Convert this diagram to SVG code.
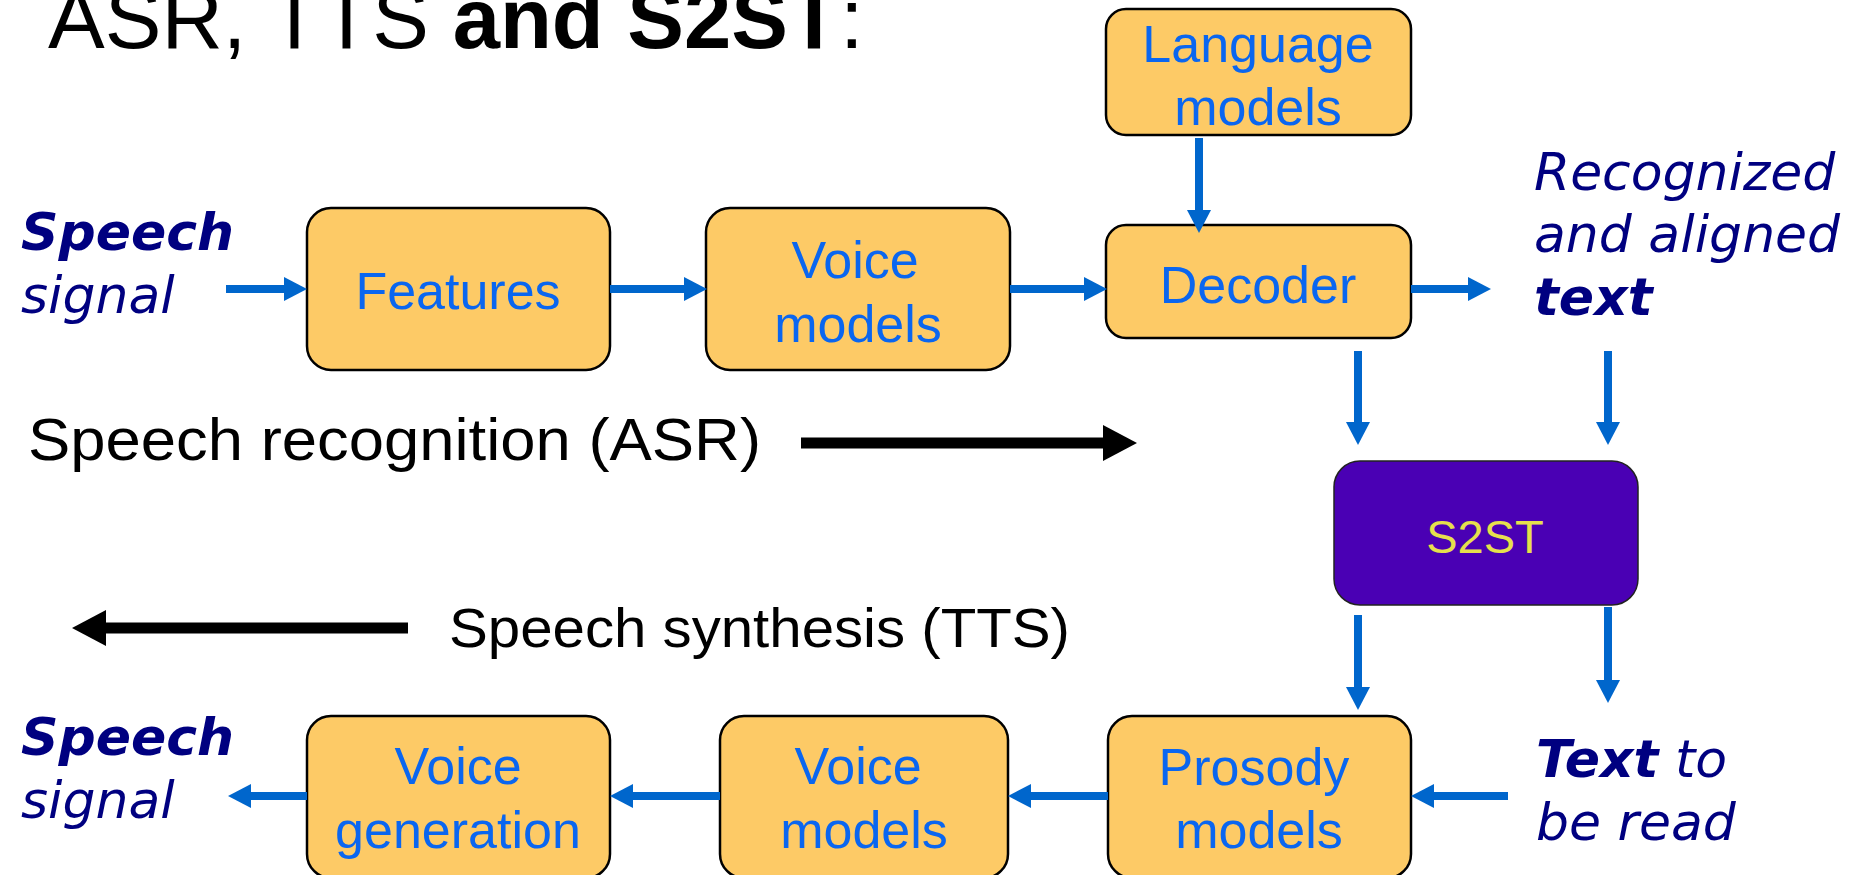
<svg xmlns="http://www.w3.org/2000/svg" width="1866" height="875" viewBox="0 0 1866 875">
  <style>
    .box { fill: #fdca66; stroke: #000; stroke-width: 2.5; }
    .s2st { fill: #4a00b4; stroke: #222; stroke-width: 1.5; }
    .lbl { font-family: "Liberation Sans", Arial, sans-serif; font-size: 52px; fill: #0a66f0; text-anchor: middle; }
    .io { font-family: "DejaVu Sans", sans-serif; font-size: 52px; font-style: oblique; fill: #000080; }
    .io .b { font-weight: bold; }
    .big { font-family: "Liberation Sans", Arial, sans-serif; fill: #000; }
    .flow { stroke: #0066cc; stroke-width: 8; fill: none; marker-end: url(#blueHead); }
    .dir { stroke: #000; stroke-width: 11; fill: none; marker-end: url(#blackHead); }
  </style>
  <defs>
    <marker id="blueHead" markerUnits="userSpaceOnUse" viewBox="0 0 23 24" markerWidth="23" markerHeight="24" refX="0" refY="12" orient="auto">
      <path d="M0,0 L23,12 L0,24 z" fill="#0066cc"/>
    </marker>
    <marker id="blackHead" markerUnits="userSpaceOnUse" viewBox="0 0 34 36" markerWidth="34" markerHeight="36" refX="0" refY="18" orient="auto">
      <path d="M0,0 L34,18 L0,36 z" fill="#000"/>
    </marker>
  </defs>

  <rect width="1866" height="875" fill="#fff"/>

  <!-- heading -->
  <text class="big" x="48" y="48" font-size="85">ASR, TTS <tspan font-weight="bold">and S2ST</tspan>:</text>

  <!-- recognition chain -->
  <g id="speech-in">
    <text class="io" x="21" y="250"><tspan class="b">Speech</tspan><tspan x="21" y="313">signal</tspan></text>
  </g>
  <g id="features">
    <rect class="box" x="307" y="208" width="303" height="162" rx="24"/>
    <text class="lbl" x="458" y="309">Features</text>
  </g>
  <g id="voice-models-asr">
    <rect class="box" x="706" y="208" width="304" height="162" rx="24"/>
    <text class="lbl" x="855" y="278">Voice</text>
    <text class="lbl" x="858" y="342">models</text>
  </g>
  <g id="language-models">
    <rect class="box" x="1106" y="9" width="305" height="126" rx="20"/>
    <text class="lbl" x="1258" y="62">Language</text>
    <text class="lbl" x="1258" y="125">models</text>
  </g>
  <g id="decoder">
    <rect class="box" x="1106" y="225" width="305" height="113" rx="20"/>
    <text class="lbl" x="1258" y="303">Decoder</text>
  </g>
  <g id="recognized-text">
    <text class="io" x="1534" y="190">Recognized<tspan x="1534" y="252">and aligned</tspan><tspan class="b" x="1534" y="315">text</tspan></text>
  </g>
  <g id="asr-label">
    <text class="big" x="28" y="460" font-size="60" textLength="733" lengthAdjust="spacingAndGlyphs">Speech recognition (ASR)</text>
  </g>

  <!-- translation -->
  <g id="s2st">
    <rect class="s2st" x="1334" y="461" width="304" height="144" rx="26"/>
    <text x="1485" y="553" font-family="Liberation Sans, Arial, sans-serif" font-size="47" fill="#e6e04c" text-anchor="middle">S2ST</text>
  </g>

  <!-- synthesis chain -->
  <g id="tts-label">
    <text class="big" x="449" y="647" font-size="55" textLength="621" lengthAdjust="spacingAndGlyphs">Speech synthesis (TTS)</text>
  </g>
  <g id="text-to-read">
    <text class="io" x="1536" y="777"><tspan class="b">Text</tspan> to<tspan x="1536" y="840">be read</tspan></text>
  </g>
  <g id="prosody-models">
    <rect class="box" x="1108" y="716" width="303" height="162" rx="24"/>
    <text class="lbl" x="1254" y="785">Prosody</text>
    <text class="lbl" x="1259" y="848">models</text>
  </g>
  <g id="voice-models-tts">
    <rect class="box" x="720" y="716" width="288" height="162" rx="24"/>
    <text class="lbl" x="858" y="784">Voice</text>
    <text class="lbl" x="864" y="848">models</text>
  </g>
  <g id="voice-generation">
    <rect class="box" x="307" y="716" width="303" height="162" rx="24"/>
    <text class="lbl" x="458" y="784">Voice</text>
    <text class="lbl" x="458" y="848">generation</text>
  </g>
  <g id="speech-out">
    <text class="io" x="21" y="755"><tspan class="b">Speech</tspan><tspan x="21" y="818">signal</tspan></text>
  </g>

  <!-- connectors -->
  <g id="connectors">
    <line class="flow" x1="226" y1="289" x2="284" y2="289"/>
    <line class="flow" x1="610" y1="289" x2="684" y2="289"/>
    <line class="flow" x1="1010" y1="289" x2="1084" y2="289"/>
    <line class="flow" x1="1411" y1="289" x2="1468" y2="289"/>
    <line class="flow" x1="1199" y1="138" x2="1199" y2="210"/>
    <line class="flow" x1="1358" y1="351" x2="1358" y2="422"/>
    <line class="flow" x1="1608" y1="351" x2="1608" y2="422"/>
    <line class="flow" x1="1358" y1="615" x2="1358" y2="687"/>
    <line class="flow" x1="1608" y1="607" x2="1608" y2="680"/>
    <line class="flow" x1="1508" y1="796" x2="1434" y2="796"/>
    <line class="flow" x1="1108" y1="796" x2="1031" y2="796"/>
    <line class="flow" x1="720" y1="796" x2="633" y2="796"/>
    <line class="flow" x1="307" y1="796" x2="251" y2="796"/>
    <line class="dir" x1="801" y1="443" x2="1103" y2="443"/>
    <line class="dir" x1="408" y1="628" x2="106" y2="628"/>
  </g>
</svg>
